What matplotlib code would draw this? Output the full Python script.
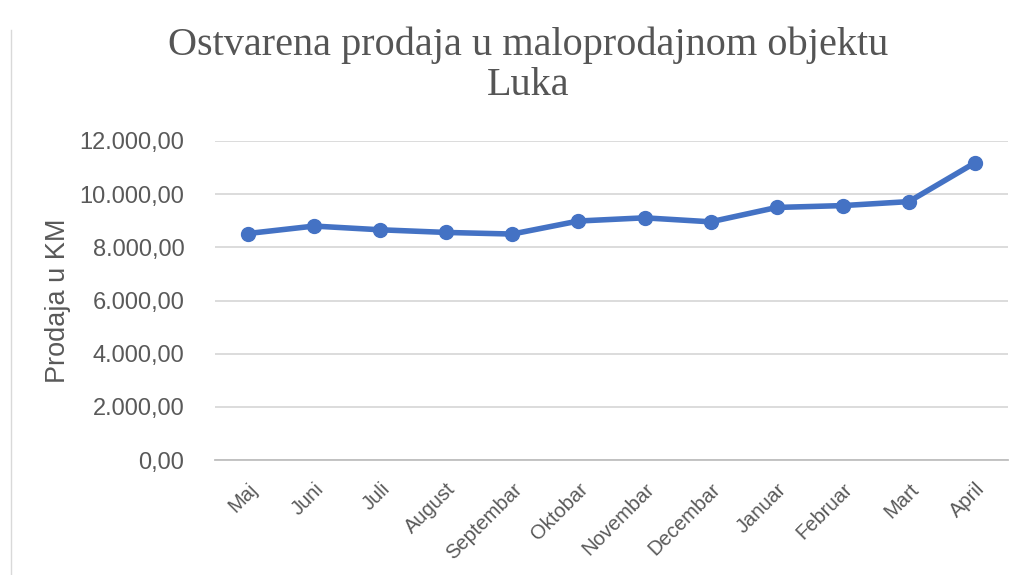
import matplotlib.pyplot as plt
from matplotlib.ticker import FuncFormatter
from matplotlib.lines import Line2D

# Podaci sa grafika (procjena)
mjeseci = ["Maj", "Juni", "Juli", "August", "Septembar", "Oktobar",
           "Novembar", "Decembar", "Januar", "Februar", "Mart", "April"]
prodaja = [8520, 8800, 8660, 8560, 8500, 8990,
           9110, 8960, 9500, 9570, 9720, 11180]
y_ticks = [0, 2000, 4000, 6000, 8000, 10000, 12000]


def format_km(v, pos):
    s = f"{v:,.2f}"
    return s.replace(",", "X").replace(".", ",").replace("X", ".")


fig = plt.figure(figsize=(10.24, 5.75), dpi=100)
ax = fig.add_axes([215 / 1024, 1 - 460 / 575, (1008 - 215) / 1024, (460 - 141) / 575])

x = range(len(mjeseci))
ax.plot(x, prodaja, color="#4472C4", linewidth=4, marker="o",
        markersize=10, zorder=3)

ax.set_xlim(-0.5, len(mjeseci) - 0.5)
ax.set_ylim(0, 12000)
ax.set_yticks(y_ticks)
ax.yaxis.set_major_formatter(FuncFormatter(format_km))
ax.grid(axis="y", color="#D9D9D9", linewidth=1.3)
ax.set_axisbelow(True)

for side in ["top", "right", "left"]:
    ax.spines[side].set_visible(False)
ax.spines["bottom"].set_color("#BFBFBF")
ax.spines["bottom"].set_linewidth(1.3)

ax.set_xticks(list(x))
ax.set_xticklabels(mjeseci, rotation=45, ha="right", rotation_mode="anchor",
                   fontsize=14.5, color="#595959", family="Liberation Sans")
ax.tick_params(axis="x", length=0, pad=14)
ax.tick_params(axis="y", length=0, pad=22, labelsize=17, labelcolor="#595959")
for lbl in ax.get_yticklabels():
    lbl.set_family("Liberation Sans")

ax.set_ylabel("Prodaja u KM", fontsize=19.5, color="#595959",
              family="Liberation Sans", labelpad=6)

fig.text(0.516, 1 - 65 / 575, "Ostvarena prodaja u maloprodajnom objektu\nLuka",
         ha="center", va="center", fontsize=29, color="#555555",
         family="Liberation Serif", linespacing=1.1)

# okvir grafika (lijeva ivica)
fig.add_artist(Line2D([11 / 1024, 11 / 1024], [0, 1 - 30 / 575],
                      transform=fig.transFigure, color="#D9D9D9", linewidth=1))

fig.savefig("out.png", dpi=100)
